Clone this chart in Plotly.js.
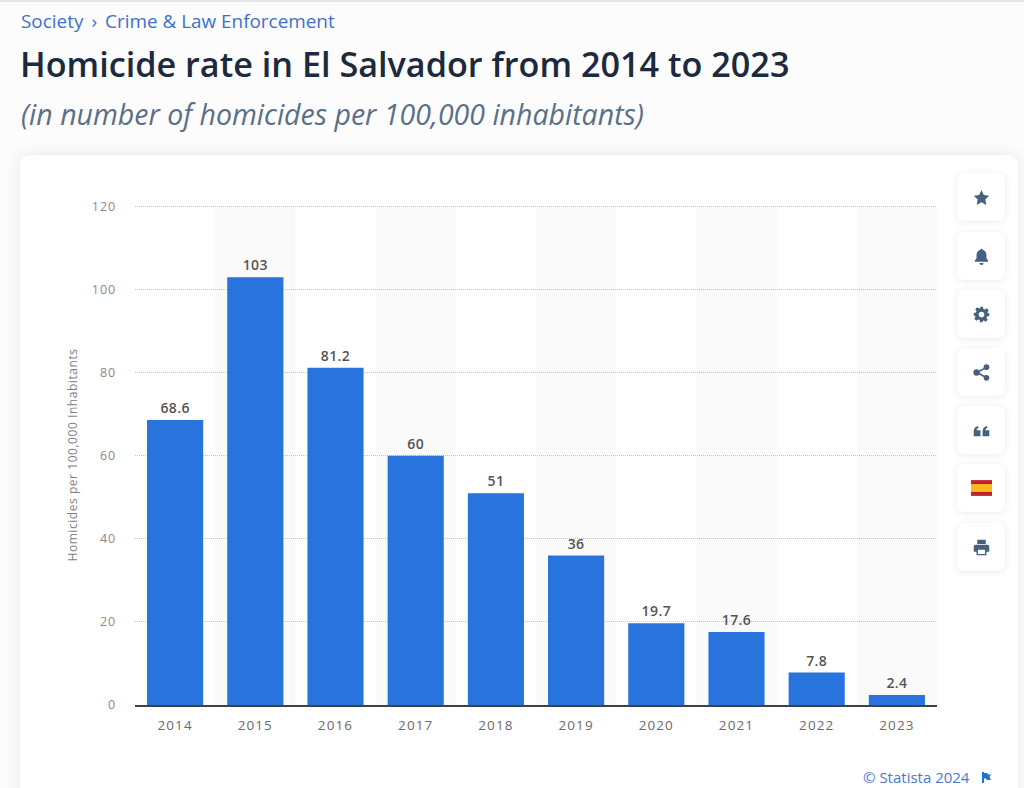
<!DOCTYPE html>
<html>
<head>
<meta charset="utf-8">
<script src="https://cdn.plot.ly/plotly-3.0.1.min.js"></script>
<style>
html,body{margin:0;padding:0;width:1024px;height:788px;overflow:hidden;background:#fcfcfd;font-family:"Open Sans",sans-serif}
#topline{position:absolute;left:0;top:0;width:1024px;height:2px;background:#e4e6e8}
#card{position:absolute;left:20px;top:155px;width:998px;height:660px;background:#fff;border-radius:10px;box-shadow:0 0 16px rgba(60,80,110,.12)}
#chart{position:absolute;left:0;top:0;width:1024px;height:788px}
.btn{position:absolute;left:957px;width:48px;height:48px;border-radius:7px;background:#fff;box-shadow:0 1px 7px rgba(60,80,110,.12);display:flex;align-items:center;justify-content:center}
.btn svg{width:17px;height:17px;fill:#46607f}
#mark{position:absolute;left:981px;top:772px;width:10px;height:11px;fill:#1f6fd8}
.xtick text{letter-spacing:1.1px}
.ytick text{letter-spacing:.9px}
.g-ytitle text{letter-spacing:.55px}
.bartext{translate:0 -1.5px;letter-spacing:.4px}
</style>
</head>
<body>
<div id="topline"></div>
<div id="card"></div>
<div id="chart"></div>
<div class="btn" style="top:173px"><svg viewBox="0 0 24 24"><path d="M12 1.5l3.3 7 7.700 1-5.600 5.300 1.400 7.700-6.800-3.800-6.800 3.800 1.400-7.700L1 9.500l7.700-1z"/></svg></div>
<div class="btn" style="top:232px"><svg viewBox="0 0 24 24"><path d="M12 1c-1 0-1.600.7-1.600 1.600C7 3.500 5 6.300 5 10v4.500L2.500 18v1.500h19V18L19 14.500V10c0-3.700-2-6.500-5.400-7.400C13.600 1.700 13 1 12 1zM9 21a3 3 0 0 0 6 0z"/></svg></div>
<div class="btn" style="top:290px"><svg viewBox="0 0 24 24"><path fill-rule="evenodd" d="M10 1h4l.7 3.200 1.900.8 2.800-1.800 2.800 2.800-1.800 2.800.8 1.900L23 10v4l-3.200.7-.8 1.900 1.800 2.800-2.800 2.800-2.800-1.800-1.900.8L14 23h-4l-.7-3.200-1.900-.8-2.800 1.800-2.800-2.800 1.800-2.800-.8-1.900L1 14v-4l3.200-.7.8-1.900-1.800-2.800 2.800-2.800 2.800 1.800 1.900-.8zM12 8a4 4 0 1 0 0 8 4 4 0 0 0 0-8z"/></svg></div>
<div class="btn" style="top:348px"><svg viewBox="0 0 24 24"><circle cx="19" cy="4.500" r="4"/><circle cx="5" cy="12" r="4.500"/><circle cx="19" cy="19.500" r="4"/><path d="M5 11l14-7.500 1 1.800L6 13zM6 11l14 7.500-1 1.800L5 13z"/></svg></div>
<div class="btn" style="top:406px"><svg viewBox="0 0 24 24"><path d="M1 20v-7c0-4 2.500-6.500 6-7.500l1 2.500c-2 .7-3 2-3 3.500h5.500V20zM13.500 20v-7c0-4 2.500-6.500 6-7.500l1 2.500c-2 .7-3 2-3 3.500H23V20z"/></svg></div>
<div class="btn" style="top:464px"><svg viewBox="0 0 20 15" style="width:21px;height:16px"><rect width="20" height="15" fill="#c0202a"/><rect y="3.800" width="20" height="7.400" fill="#f6bd1c"/></svg></div>
<div class="btn" style="top:523px"><svg viewBox="0 0 24 24"><path fill-rule="evenodd" d="M6 1h12v6H6zM4 8h16a3 3 0 0 1 3 3v7h-4v5H5v-5H1v-7a3 3 0 0 1 3-3zM7 15v6h10v-6z"/></svg></div>
<svg id="mark" viewBox="0 0 10 11"><path d="M1 0h2v11H1zM3 1h3l1 1.500h3L8.500 5 10 8H6L5 6.500H3z"/></svg>
<script>
const years = ['2014','2015','2016','2017','2018','2019','2020','2021','2022','2023'];
const rates = [68.6,103,81.2,60,51,36,19.7,17.6,7.8,2.4];
const yTicks = [0,20,40,60,80,100,120];
const bandIndexes = [1,3,5,7,9];
const breadcrumbText = 'Society \u2009›\u2009 Crime &amp; Law Enforcement';
const titleText = 'Homicide rate in El Salvador from 2014 to 2023';
const subtitleText = '(in number of homicides per 100,000 inhabitants)';
const yAxisLabel = 'Homicides per 100,000 Inhabitants';
const creditText = '© Statista 2024';

const FONT = '"Open Sans", sans-serif';
const L = 135.4, R = 937, T = 205.0, B = 705;
const yTop = 120.4;
const px = v => (v - L) / (R - L);
const py = v => (B - v) / (B - T);

const trace = {
  type: 'bar',
  x: years,
  y: rates,
  width: 0.7,
  marker: {color: '#2873dc', line: {width: 0}},
  text: rates.map(String),
  textposition: 'outside',
  cliponaxis: false,
  textfont: {family: FONT, size: 14, color: '#555555', weight: 600},
  hoverinfo: 'x+y'
};

const layout = {
  width: 1024,
  height: 788,
  margin: {l: L, r: 1024 - R, t: T, b: 788 - B, pad: 0},
  paper_bgcolor: 'rgba(0,0,0,0)',
  plot_bgcolor: 'rgba(0,0,0,0)',
  showlegend: false,
  title: {
    text: titleText,
    x: 20 / 1024, xref: 'container', xanchor: 'left',
    y: 1 - 65 / 788, yref: 'container', yanchor: 'middle',
    font: {family: FONT, size: 34.2, color: '#1b2a3c', weight: 600}
  },
  xaxis: {
    type: 'category',
    categoryorder: 'array',
    categoryarray: years,
    range: [-0.5, 9.5],
    showgrid: false,
    showline: true,
    linecolor: '#3c4248',
    linewidth: 1.5,
    ticks: '',
    ticklabelstandoff: 7,
    tickfont: {family: FONT, size: 13.5, color: '#6a6a6a'},
    fixedrange: true
  },
  yaxis: {
    range: [0, yTop],
    tickmode: 'array',
    tickvals: yTicks,
    ticktext: yTicks.map(String),
    showgrid: true,
    gridcolor: '#c4c4c4',
    griddash: '1px,1px',
    gridwidth: 1,
    zeroline: false,
    ticks: '',
    ticklabelstandoff: 18,
    tickfont: {family: FONT, size: 12.5, color: '#8a8a8a'},
    title: {
      text: yAxisLabel,
      standoff: 11,
      font: {family: FONT, size: 12, color: '#828282'}
    },
    fixedrange: true
  },
  shapes: bandIndexes.map(i => ({
    type: 'rect', layer: 'below',
    xref: 'x', yref: 'y',
    x0: i - 0.5, x1: i + 0.5, y0: 0, y1: 120,
    fillcolor: '#fafafa', line: {width: 0}
  })),
  annotations: [
    {text: breadcrumbText, x: px(20), y: py(21), xanchor: 'left', yanchor: 'middle',
     font: {family: FONT, size: 18.9, color: '#3f70cf'}},
    {text: '<i>' + subtitleText + '</i>', x: px(20), y: py(114), xanchor: 'left', yanchor: 'middle',
     font: {family: FONT, size: 28.5, color: '#5b6f86'}},
    {text: creditText, x: px(971), y: py(777), xanchor: 'right', yanchor: 'middle',
     font: {family: FONT, size: 15, color: '#4a78cf'}}
  ].map(a => Object.assign({xref: 'paper', yref: 'paper', showarrow: false, borderpad: 0}, a))
};

Plotly.newPlot('chart', [trace], layout, {displayModeBar: false, staticPlot: true});
</script>
</body>
</html>
